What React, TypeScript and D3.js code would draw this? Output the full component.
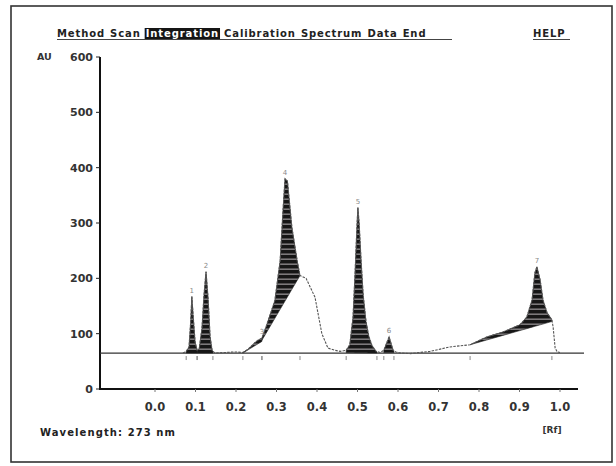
import React, { useEffect, useRef } from 'react';
import * as d3 from 'd3';

// menu bar of the HPTLC software
const menuItems = ['Method', 'Scan', 'Integration', 'Calibration', 'Spectrum', 'Data', 'End'];
const activeMenu = 'Integration';

// axes
const yTicks = [0, 100, 200, 300, 400, 500, 600];
const xTicks = [0, 0.1, 0.2, 0.3, 0.4, 0.5, 0.6, 0.7, 0.8, 0.9, 1.0];
const xTickLabels = ['0.0', '0.1', '0.2', '0.3', '0.4', '0.5', '0.6', '0.7', '0.8', '0.9', '1.0'];

// densitogram trace (Rf vs AU)
const rfValues = [
  0.069, 0.077, 0.084, 0.088, 0.091, 0.094, 0.099, 0.104, 0.109, 0.116,
  0.121, 0.126, 0.131, 0.136, 0.141, 0.148, 0.173, 0.198, 0.217, 0.230,
  0.247, 0.254, 0.264, 0.274, 0.296, 0.309, 0.316, 0.321, 0.327, 0.338,
  0.351, 0.358, 0.373, 0.395, 0.412, 0.427, 0.444, 0.457, 0.472, 0.481,
  0.489, 0.494, 0.499, 0.501, 0.504, 0.509, 0.514, 0.521, 0.528, 0.536,
  0.546, 0.556, 0.565, 0.573, 0.578, 0.583, 0.588, 0.595, 0.605, 0.630,
  0.654, 0.679, 0.704, 0.728, 0.753, 0.778, 0.819, 0.859, 0.901, 0.918,
  0.931, 0.938, 0.943, 0.951, 0.958, 0.968, 0.980, 0.983, 0.988, 0.993,
  1.000,
];
const auValues = [
  65, 68, 76, 120, 167, 135, 85, 70, 72, 110,
  170, 212, 165, 95, 70, 65, 66, 67, 66, 72,
  84, 88, 92, 112, 160, 232, 322, 380, 376, 292,
  232, 205, 200, 166, 100, 74, 70, 68, 70, 80,
  130, 210, 300, 328, 300, 230, 170, 122, 95, 78,
  68, 66, 70, 85, 94, 82, 70, 67, 65, 64,
  66, 68, 72, 76, 78, 80, 94, 103, 116, 130,
  161, 210, 221, 197, 161, 138, 125, 112, 74, 67,
  66,
];

// integrated peaks: id, start / end Rf and the integration baseline at each end
const peakIds = [1, 2, 3, 4, 5, 6, 7];
const peakStartRf = [0.077, 0.104, 0.217, 0.264, 0.472, 0.565, 0.778];
const peakEndRf = [0.104, 0.143, 0.264, 0.358, 0.548, 0.590, 0.980];
const peakStartBase = [65, 65, 65, 88, 66, 66, 80];
const peakEndBase = [65, 65, 86, 205, 65, 66, 122];

const baselineAu = 65;
const wavelengthNm = 273;

const App = () => {
  const ref = useRef<SVGSVGElement>(null);

  useEffect(() => {
    const svg = d3.select(ref.current);
    svg.selectAll('*').remove();
    const font = 'DejaVu Sans, Verdana, sans-serif';

    const x = d3.scaleLinear().domain([0, 1]).range([155, 560]);
    const y = d3.scaleLinear().domain([0, 600]).range([389, 57]);
    const signalAt = d3.scaleLinear().domain(rfValues).range(auValues);

    // stripy fill like the printout
    const pat = svg.append('defs').append('pattern')
      .attr('id', 'hatch')
      .attr('patternUnits', 'userSpaceOnUse')
      .attr('width', 8)
      .attr('height', 5);
    pat.append('rect').attr('width', 8).attr('height', 5).attr('fill', '#161616');
    pat.append('rect').attr('y', 3.6).attr('width', 8).attr('height', 1.1).attr('fill', '#a8a3a6');

    // frame
    svg.append('rect')
      .attr('x', 11).attr('y', 6)
      .attr('width', 601).attr('height', 456)
      .attr('fill', 'none')
      .attr('stroke', '#333')
      .attr('stroke-width', 1.6);

    // menu bar
    const menu = svg.append('g');
    let cx = 57;
    menuItems.forEach((item) => {
      const t = menu.append('text')
        .attr('x', cx).attr('y', 37)
        .attr('font-family', font)
        .attr('font-weight', 'bold')
        .attr('font-size', 10)
        .attr('letter-spacing', 0.9)
        .attr('fill', item === activeMenu ? '#fff' : '#222')
        .text(item);
      const w = (t.node() as SVGTextElement).getComputedTextLength();
      if (item === activeMenu) {
        menu.insert('rect', 'text')
          .attr('x', cx - 1).attr('y', 28)
          .attr('width', w + 2).attr('height', 11)
          .attr('fill', '#151515');
      }
      cx += w + 5;
    });
    menu.append('line')
      .attr('x1', 57).attr('x2', Math.max(cx, 452))
      .attr('y1', 39.5).attr('y2', 39.5)
      .attr('stroke', '#444').attr('stroke-width', 1);
    menu.append('text')
      .attr('x', 533).attr('y', 37)
      .attr('font-family', font).attr('font-weight', 'bold').attr('font-size', 10)
      .attr('letter-spacing', 0.9)
      .attr('fill', '#222')
      .text('HELP');
    menu.append('line')
      .attr('x1', 533).attr('x2', 570)
      .attr('y1', 39.5).attr('y2', 39.5)
      .attr('stroke', '#444').attr('stroke-width', 1);

    // y axis
    svg.append('line')
      .attr('x1', 100).attr('x2', 100)
      .attr('y1', y(600)).attr('y2', y(0))
      .attr('stroke', '#111').attr('stroke-width', 2);
    const yg = svg.append('g');
    yg.selectAll('line').data(yTicks).join('line')
      .attr('x1', 96).attr('x2', 100)
      .attr('y1', (d) => y(d)).attr('y2', (d) => y(d))
      .attr('stroke', '#222').attr('stroke-width', 1);
    yg.selectAll('text').data(yTicks).join('text')
      .attr('x', 93).attr('y', (d) => y(d))
      .attr('dy', '0.36em')
      .attr('text-anchor', 'end')
      .attr('font-family', font).attr('font-weight', 'bold').attr('font-size', 11)
      .attr('fill', '#333')
      .text((d) => d);
    svg.append('text')
      .attr('x', 37).attr('y', y(600))
      .attr('dy', '0.36em')
      .attr('font-family', font).attr('font-weight', 'bold').attr('font-size', 9.5)
      .attr('fill', '#333')
      .text('AU');

    // x axis
    svg.append('line')
      .attr('x1', 99).attr('x2', 578)
      .attr('y1', y(0)).attr('y2', y(0))
      .attr('stroke', '#111').attr('stroke-width', 2);
    const xg = svg.append('g');
    xg.selectAll('line').data(xTicks).join('line')
      .attr('x1', (d) => x(d)).attr('x2', (d) => x(d))
      .attr('y1', y(0)).attr('y2', y(0) + 3)
      .attr('stroke', '#777').attr('stroke-width', 1);
    xg.selectAll('text').data(xTicks).join('text')
      .attr('x', (d) => x(d)).attr('y', 411)
      .attr('text-anchor', 'middle')
      .attr('font-family', font).attr('font-weight', 'bold').attr('font-size', 11.5)
      .attr('fill', '#333')
      .text((d, i) => xTickLabels[i]);

    svg.append('text')
      .attr('x', 40).attr('y', 436)
      .attr('font-family', font).attr('font-weight', 'bold').attr('font-size', 10)
      .attr('textLength', 135).attr('lengthAdjust', 'spacing')
      .attr('fill', '#222')
      .text(`Wavelength: ${wavelengthNm} nm`);
    svg.append('text')
      .attr('x', 552).attr('y', 433)
      .attr('text-anchor', 'middle')
      .attr('font-family', font).attr('font-weight', 'bold').attr('font-size', 9)
      .attr('fill', '#333')
      .text('[Rf]');

    // scan baseline
    svg.append('line')
      .attr('x1', 100).attr('x2', 584)
      .attr('y1', y(baselineAu)).attr('y2', y(baselineAu))
      .attr('stroke', '#333').attr('stroke-width', 1.2);

    // filled peak areas
    const area = d3.area<[number, number, number]>()
      .x((d) => x(d[0]))
      .y0((d) => y(d[1]))
      .y1((d) => y(d[2]));
    peakIds.forEach((id, i) => {
      const s = peakStartRf[i];
      const e = peakEndRf[i];
      const rs = [s, ...rfValues.filter((r) => r > s && r < e), e];
      const pts = rs.map((r) => {
        const base = peakStartBase[i] + ((r - s) / (e - s)) * (peakEndBase[i] - peakStartBase[i]);
        return [r, base, Math.max(base, signalAt(r))] as [number, number, number];
      });
      svg.append('path')
        .attr('d', area(pts))
        .attr('fill', 'url(#hatch)')
        .attr('stroke', '#222')
        .attr('stroke-width', 0.6);
    });

    // trace
    const line = d3.line<number>()
      .x((d, i) => x(rfValues[i]))
      .y((d) => y(d));
    svg.append('path')
      .attr('d', line(auValues))
      .attr('fill', 'none')
      .attr('stroke', '#555')
      .attr('stroke-width', 1.1)
      .attr('stroke-dasharray', '2.5 1.2');

    // peak numbers and boundary marks
    peakIds.forEach((id, i) => {
      const inside = rfValues.filter((r) => r >= peakStartRf[i] && r <= peakEndRf[i]);
      const apex = inside.reduce((a, b) => (signalAt(b) > signalAt(a) ? b : a), inside[0]);
      svg.append('text')
        .attr('x', x(apex)).attr('y', y(signalAt(apex)) - 4)
        .attr('text-anchor', 'middle')
        .attr('font-family', font).attr('font-size', 7)
        .attr('fill', '#888')
        .text(id);
      [peakStartRf[i], peakEndRf[i]].forEach((r) => {
        svg.append('line')
          .attr('x1', x(r)).attr('x2', x(r))
          .attr('y1', y(baselineAu) + 3).attr('y2', y(baselineAu) + 7)
          .attr('stroke', '#888').attr('stroke-width', 1);
      });
    });
  }, []);

  return (
    <svg
      ref={ref}
      width={616}
      height={466}
      style={{ position: 'absolute', left: 0, top: 0, background: '#fff' }}
    />
  );
};

export default App;
